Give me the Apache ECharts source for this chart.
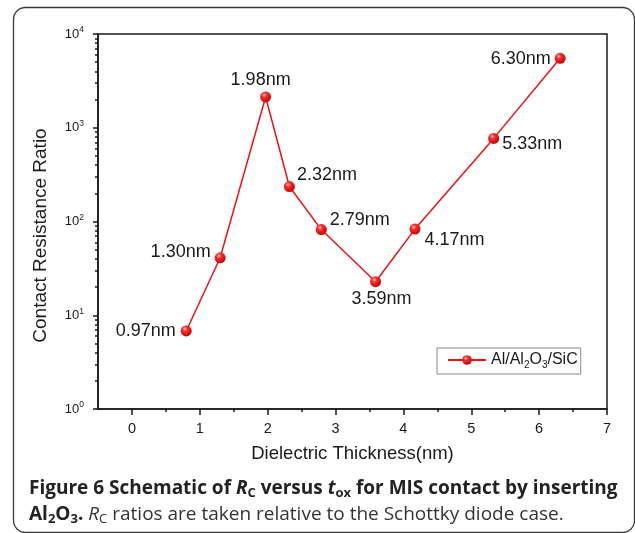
<!DOCTYPE html>
<html><head><meta charset="utf-8">
<script src="https://cdn.jsdelivr.net/npm/echarts@6/dist/echarts.min.js"></script>
<style>html,body{margin:0;padding:0;background:#fff}#c{width:635px;height:533px}</style>
</head><body><div id="c"></div>
<script>
// ---- data ----
const thickness = [0.80, 1.30, 1.97, 2.32, 2.79, 3.59, 4.17, 5.33, 6.31];
const ratio = [6.8, 41, 2130, 236, 82, 22.8, 83, 770, 5500];
const pointLabels = ['0.97nm', '1.30nm', '1.98nm', '2.32nm', '2.79nm', '3.59nm', '4.17nm', '5.33nm', '6.30nm'];
const xTickValues = [0, 1, 2, 3, 4, 5, 6, 7];
const xMinorTickValues = [0.5, 1.5, 2.5, 3.5, 4.5, 5.5, 6.5];
const yTickValues = [1, 10, 100, 1000, 10000];
const yMinorTickValues = [2,3,4,5,6,7,8,9,20,30,40,50,60,70,80,90,200,300,400,500,600,700,800,900,2000,3000,4000,5000,6000,7000,8000,9000];
const seriesName = 'Al/Al2O3/SiC';
const xTitle = 'Dielectric Thickness(nm)';
const yTitle = 'Contact Resistance Ratio';

// ---- label placement (style) ----
const placement = [
  {position: 'left', distance: 5, offset: [0, 0]},
  {position: 'left', distance: 4, offset: [0, -6]},
  {position: 'top', distance: 2, offset: [-5, 0]},
  {position: 'right', distance: 2, offset: [0, -12]},
  {position: 'right', distance: 3, offset: [0, -10]},
  {position: 'bottom', distance: 3, offset: [6, 0]},
  {position: 'right', distance: 4, offset: [0, 11]},
  {position: 'right', distance: 3, offset: [0, 6]},
  {position: 'left', distance: 4, offset: [0, 1]}
];

const FONT = 'Liberation Sans, Arial, sans-serif';
const sphere = {
  type: 'radial', x: 0.38, y: 0.32, r: 0.75,
  colorStops: [
    {offset: 0, color: '#ffd0d0'},
    {offset: 0.3, color: '#ff2a2a'},
    {offset: 1, color: '#b80000'}
  ]
};

const seriesData = thickness.map((x, i) => ({
  value: [x, ratio[i]],
  label: {
    show: true,
    formatter: pointLabels[i],
    position: placement[i].position,
    distance: placement[i].distance,
    offset: placement[i].offset
  }
}));

const chart = echarts.init(document.getElementById('c'), null, {renderer: 'canvas'});
const axisLineStyle = {color: '#1a1a1a', width: 1.5};

chart.setOption({
  animation: false,
  backgroundColor: '#fff',
  textStyle: {fontFamily: FONT},
  grid: {left: 98, right: 28, top: 34, bottom: 124, show: true, borderColor: '#1a1a1a', borderWidth: 1.5, backgroundColor: 'transparent'},
  legend: {
    show: true,
    data: [seriesName],
    left: 437, top: 348,
    padding: [4, 3, 4, 10],
    borderColor: '#8a8a8a', borderWidth: 1,
    itemWidth: 38, itemHeight: 12, itemGap: 6,
    formatter: () => 'Al/Al{s|2}O{s|3}/SiC',
    textStyle: {
      fontFamily: FONT, fontSize: 16, color: '#1a1a1a',
      rich: {s: {fontFamily: FONT, fontSize: 10, color: '#1a1a1a', padding: [10, 0, 0, 0]}}
    }
  },
  xAxis: [{
    type: 'value', min: -0.5, max: 7,
    name: xTitle, nameLocation: 'middle', nameGap: 35,
    nameTextStyle: {fontFamily: FONT, fontSize: 18.5, color: '#1a1a1a'},
    axisLine: {show: true, onZero: false, lineStyle: axisLineStyle},
    axisTick: {show: true, customValues: xTickValues, length: 6, inside: false, lineStyle: axisLineStyle},
    axisLabel: {show: true, customValues: xTickValues, margin: 12, fontFamily: FONT, fontSize: 14.5, color: '#1a1a1a'},
    splitLine: {show: false}
  }, {
    type: 'value', min: -0.5, max: 7, position: 'bottom', gridIndex: 0,
    axisLine: {show: false, onZero: false},
    axisTick: {show: true, customValues: xMinorTickValues, length: 3, lineStyle: axisLineStyle},
    axisLabel: {show: false},
    splitLine: {show: false}
  }],
  yAxis: [{
    type: 'log', logBase: 10, min: 1, max: 10000,
    name: yTitle, nameLocation: 'middle', nameGap: 48, nameRotate: 90,
    nameTextStyle: {fontFamily: FONT, fontSize: 19, color: '#1a1a1a', padding: [0, 28, 0, 0]},
    axisLine: {show: true, onZero: false, lineStyle: axisLineStyle},
    axisTick: {show: true, customValues: yTickValues, length: 5, lineStyle: axisLineStyle},
    axisLabel: {
      show: true, customValues: yTickValues, margin: 14,
      formatter: v => '10{p|' + Math.round(Math.log10(v)) + '}',
      fontFamily: FONT, fontSize: 13, color: '#1a1a1a',
      rich: {p: {fontFamily: FONT, fontSize: 8.5, color: '#1a1a1a', padding: [0, 0, 8, 0]}}
    },
    splitLine: {show: false}
  }, {
    type: 'log', logBase: 10, min: 1, max: 10000, position: 'left', gridIndex: 0,
    axisLine: {show: false, onZero: false},
    axisTick: {show: true, customValues: yMinorTickValues, length: 3, lineStyle: axisLineStyle},
    axisLabel: {show: false},
    splitLine: {show: false}
  }],
  series: [{
    name: seriesName,
    type: 'line',
    xAxisIndex: 0, yAxisIndex: 0,
    data: seriesData,
    symbol: 'circle', symbolSize: 11,
    lineStyle: {color: '#ee1111', width: 1.5},
    itemStyle: {color: sphere, borderWidth: 0},
    label: {fontFamily: FONT, fontSize: 18, color: '#1a1a1a'},
    z: 3
  }],
  graphic: [
    {
      type: 'rect', z: -1,
      shape: {x: 13.5, y: 7.5, width: 621, height: 525, r: 12},
      style: {fill: 'none', stroke: '#3a3a3a', lineWidth: 1.3}
    },
    {
      type: 'text', left: 29, top: 479,
      style: {
        text: '{b|Figure 6 Schematic of }{bi|R}{bs|C}{b| versus }{bi|t}{bs|ox}{b| for MIS contact by inserting}',
        rich: {
          b: {fontFamily: 'Open Sans', fontWeight: 'bold', fontSize: 19, fill: '#222'},
          bi: {fontFamily: 'Open Sans', fontWeight: 'bold', fontStyle: 'italic', fontSize: 19, fill: '#222'},
          bs: {fontFamily: 'Open Sans', fontWeight: 'bold', fontSize: 13, fill: '#222', padding: [9, 0, 0, 0]}
        }
      }
    },
    {
      type: 'text', left: 29, top: 505,
      style: {
        text: '{b|Al}{bs|2}{b|O}{bs|3}{b|.}{r| }{i|R}{s|C}{r| ratios are taken relative to the Schottky diode case.}',
        rich: {
          b: {fontFamily: 'Open Sans', fontWeight: 'bold', fontSize: 19, fill: '#222'},
          bs: {fontFamily: 'Open Sans', fontWeight: 'bold', fontSize: 13, fill: '#222', padding: [9, 0, 0, 0]},
          r: {fontFamily: 'Open Sans', fontSize: 19, fill: '#333'},
          i: {fontFamily: 'Open Sans', fontStyle: 'italic', fontSize: 19, fill: '#333'},
          s: {fontFamily: 'Open Sans', fontSize: 13, fill: '#333', padding: [9, 0, 0, 0]}
        }
      }
    }
  ]
});
</script>
</body></html>
